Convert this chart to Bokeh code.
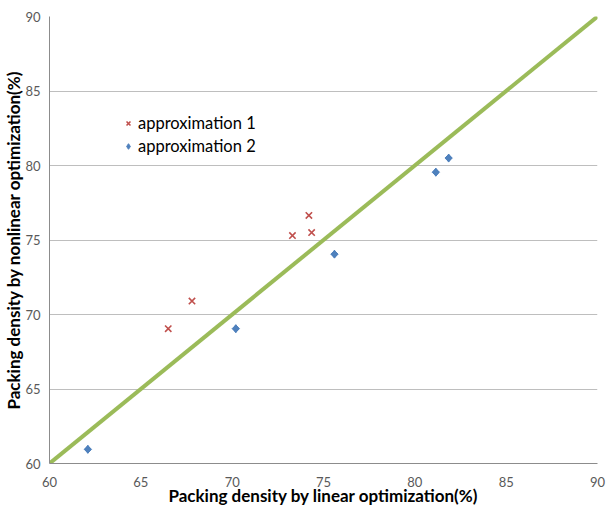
import math
from bokeh.plotting import figure
from bokeh.models import Range1d, Legend, LegendItem, FixedTicker
from bokeh.embed import file_html
from bokeh.resources import INLINE

# data
approx1_x = [66.5, 67.8, 73.3, 74.2, 74.35]
approx1_y = [69.05, 70.9, 75.3, 76.65, 75.5]
approx2_x = [62.1, 70.2, 75.6, 81.15, 81.85]
approx2_y = [60.95, 69.05, 74.05, 79.55, 80.5]
diag_x = [60, 90]
diag_y = [60, 90]
ticks = [60, 65, 70, 75, 80, 85, 90]

FONT = "Lato"

p = figure(width=606, height=511, output_backend="svg", toolbar_location=None,
           x_range=Range1d(60, 90), y_range=Range1d(60, 90),
           min_border_left=48, min_border_right=9, min_border_top=16, min_border_bottom=48)
p.outline_line_color = None
p.background_fill_color = "white"
p.border_fill_color = "white"

r_line = p.line(diag_x, diag_y, line_color="#9BBB59", line_width=4)
r1 = p.scatter(approx1_x, approx1_y, marker="x", size=9, line_color="#C0504D", line_width=1.6)
r2 = p.scatter(approx2_x, approx2_y, marker="diamond", size=8,
               fill_color="#4F81BD", line_color="#4F81BD", line_width=1)
r2b = p.scatter(approx2_x, approx2_y, marker="square", size=5.2, angle=math.pi / 4,
                fill_color="#4F81BD", line_color="#4F81BD", line_width=1)

for ax in (p.xaxis[0], p.yaxis[0]):
    ax.ticker = FixedTicker(ticks=ticks)
    ax.major_tick_out = 0
    ax.major_tick_in = 0
    ax.minor_tick_out = 0
    ax.minor_tick_in = 0
    ax.axis_line_color = "#8C8C8C"
    ax.major_label_text_font = FONT
    ax.major_label_text_font_size = "13px"
    ax.major_label_text_color = "#595959"
    ax.axis_label_text_font = FONT
    ax.axis_label_text_font_size = "17px"
    ax.axis_label_text_font_style = "bold"
    ax.axis_label_text_color = "#000000"

p.xaxis.axis_label = "Packing density by linear optimization(%)"
p.yaxis.axis_label = "Packing density by nonlinear optimization(%)"
p.xaxis.major_label_standoff = 13
p.xaxis.axis_label_standoff = -5
p.yaxis.major_label_standoff = 9
p.yaxis.axis_label_standoff = -2
p.yaxis.major_label_orientation = "horizontal"

p.xgrid.visible = False
p.ygrid.ticker = FixedTicker(ticks=ticks)
p.ygrid.grid_line_color = "#BEBEBE"
p.ygrid.grid_line_width = 1

legend = Legend(items=[LegendItem(label="approximation 1", renderers=[r1]),
                       LegendItem(label="approximation 2", renderers=[r2])],
                location=(72, 307))
legend.border_line_color = None
legend.background_fill_alpha = 0
legend.padding = 0
legend.margin = 0
legend.spacing = 3
legend.glyph_width = 14
legend.glyph_height = 20
legend.label_standoff = 3
legend.label_text_font = FONT
legend.label_text_font_size = "16.5px"
legend.label_text_color = "#000000"
p.add_layout(legend, "center")

open("out.html", "w").write(file_html(p, INLINE))
